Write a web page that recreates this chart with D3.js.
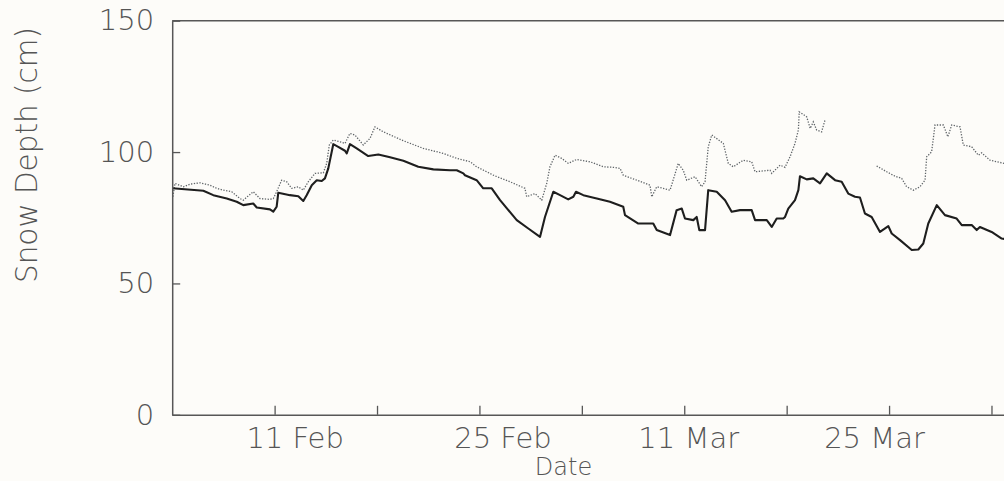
<!DOCTYPE html>
<html>
<head>
<meta charset="utf-8">
<script src="https://cdn.jsdelivr.net/npm/d3@7"></script>
<style>
  html, body { margin: 0; padding: 0; background: #fdfcf9; }
  svg { display: block; }
  text { font-family: "DejaVu Sans", sans-serif; font-weight: 200; fill: #555; }
</style>
</head>
<body>
<svg id="chart" width="1004" height="481"></svg>
<script>
// ---- data (days counted from 1 Feb = 1; year is non-leap) ----
const solidDays = [4.02, 6.13, 6.81, 7.73, 8.41, 8.86, 9.54, 9.78, 10.68, 10.91, 11.14, 11.25, 12.05, 12.62, 12.96, 13.19, 13.54, 13.88, 14.22, 14.44, 14.67, 15.01, 15.35, 15.81, 15.93, 16.15, 16.61, 17.40, 18.09, 18.89, 19.80, 20.82, 21.85, 22.99, 23.45, 23.90, 24.01, 24.81, 25.26, 25.84, 26.41, 27.55, 28.34, 29.14, 29.48, 30.05, 30.51, 31.07, 31.42, 31.60, 32.10, 33.02, 33.92, 34.83, 34.95, 35.86, 36.88, 37.12, 38.03, 38.48, 38.83, 39.05, 39.62, 39.85, 40.03, 40.42, 40.64, 41.22, 41.79, 42.24, 42.81, 43.61, 43.84, 44.64, 44.98, 45.32, 45.77, 45.89, 46.11, 46.57, 46.80, 46.91, 47.37, 47.82, 48.28, 48.74, 49.31, 49.76, 50.21, 50.67, 51.01, 51.35, 51.81, 52.38, 52.95, 53.18, 53.75, 54.55, 55.00, 55.34, 55.68, 56.26, 56.82, 57.62, 57.97, 58.65, 58.99, 59.21, 60.01, 60.70, 61.30];
const solidDepth = [86.2, 85.3, 83.6, 82.3, 81.1, 79.8, 80.4, 78.9, 78.2, 77.3, 79.2, 84.5, 83.6, 83.2, 81.4, 83.6, 87.4, 89.3, 89.0, 90.0, 93.8, 103.0, 102.0, 100.5, 99.5, 103.0, 101.4, 98.5, 99.1, 98.0, 96.7, 94.4, 93.4, 93.1, 93.1, 91.9, 91.2, 89.3, 86.2, 86.2, 81.7, 74.1, 70.9, 67.7, 75.3, 84.9, 83.6, 82.0, 83.0, 84.9, 83.6, 82.3, 81.1, 79.2, 76.0, 72.8, 72.8, 70.3, 68.4, 77.9, 78.5, 74.7, 74.1, 75.3, 70.3, 70.3, 85.5, 84.9, 81.7, 77.3, 77.9, 77.9, 74.1, 74.1, 71.5, 74.7, 74.7, 75.3, 78.5, 81.7, 85.5, 90.8, 89.6, 90.0, 88.1, 91.9, 89.3, 88.7, 84.2, 83.0, 82.7, 76.6, 75.3, 69.6, 71.8, 69.0, 66.5, 62.7, 62.9, 65.2, 72.8, 79.8, 76.0, 74.7, 72.2, 72.2, 70.3, 71.5, 69.6, 67.1, 66.5];

const dottedDays = [4.05, 4.19, 4.76, 5.22, 5.90, 6.58, 7.04, 7.49, 8.07, 8.63, 8.86, 9.54, 10.00, 10.68, 10.91, 11.14, 11.48, 11.83, 12.17, 12.62, 12.96, 13.30, 13.76, 14.33, 14.56, 14.74, 15.01, 15.47, 15.81, 16.15, 16.49, 17.06, 17.52, 17.86, 18.43, 19.80, 21.16, 22.53, 23.45, 24.37, 24.81, 25.95, 27.09, 28.11, 28.23, 28.80, 29.26, 29.60, 29.82, 30.17, 30.62, 31.07, 31.65, 32.56, 33.47, 34.15, 34.61, 34.83, 35.75, 36.66, 36.78, 37.12, 38.03, 38.59, 38.93, 39.17, 39.74, 40.19, 40.42, 40.64, 40.88, 41.67, 42.01, 42.35, 43.04, 43.61, 43.84, 44.86, 44.98, 45.55, 45.89, 46.23, 46.57, 46.80, 46.86, 47.03, 47.37, 47.61, 47.82, 48.05, 48.39, 48.62, 50.00, 52.15, 52.84, 53.41, 53.86, 54.20, 54.66, 55.11, 55.46, 55.57, 55.91, 56.14, 56.71, 57.02, 57.28, 57.85, 58.07, 58.65, 59.10, 59.33, 59.90, 60.86, 61.40];
const dottedDepth = [83.0, 88.1, 86.8, 87.8, 88.3, 87.4, 86.2, 85.5, 84.9, 82.3, 81.7, 84.9, 82.3, 82.0, 82.3, 84.9, 89.3, 88.7, 86.2, 86.8, 85.5, 88.7, 91.9, 92.1, 95.7, 102.7, 104.6, 103.9, 103.3, 107.1, 106.5, 102.7, 105.2, 109.6, 107.7, 104.3, 101.4, 99.5, 97.6, 96.3, 94.4, 91.2, 88.7, 86.2, 83.0, 84.2, 81.7, 88.1, 94.4, 98.8, 97.6, 95.7, 97.2, 96.3, 94.4, 94.2, 93.8, 91.2, 89.3, 87.4, 83.0, 86.8, 85.5, 95.7, 93.1, 89.3, 90.6, 86.8, 88.7, 102.0, 106.5, 103.3, 95.7, 94.4, 96.9, 96.3, 92.5, 93.1, 91.9, 95.0, 94.2, 98.2, 103.3, 108.4, 115.3, 114.7, 113.4, 109.0, 111.5, 108.4, 107.7, 112.2, null, 94.7, 92.5, 90.8, 90.0, 86.8, 85.5, 86.8, 89.3, 98.2, 100.1, 110.3, 110.3, 105.8, 110.3, 109.6, 102.7, 102.0, 98.8, 99.7, 96.9, 95.7, 95.0];

const tickDays = [11, 18, 25, 32, 39, 46, 53, 60];
const tickLabels = ["11 Feb", "", "25 Feb", "", "11 Mar", "", "25 Mar", ""];
const yTicks = [0, 50, 100, 150];
const domainDays = [4, 62];

// ---- styling / layout ----
const labelShift = [20, 0, 23, 0, 4, 0, -15, 0];
const plot = { left: 172.2, top: 20.7, bottom: 414.8, right: 172.2 + 58 * 14.63 };

const dateOf = d => new Date(Date.UTC(2001, 1, 1) + (d - 1) * 864e5);

const svg = d3.select("#chart");
const x = d3.scaleUtc().domain(domainDays.map(dateOf)).range([plot.left, plot.right]);
const y = d3.scaleLinear().domain([0, 150]).range([plot.bottom, plot.top]);

svg.append("defs").append("clipPath").attr("id", "clip")
  .append("rect").attr("x", plot.left).attr("y", plot.top)
  .attr("width", plot.right - plot.left).attr("height", plot.bottom - plot.top);

const solid = solidDays.map((d, i) => ({ date: dateOf(d), v: solidDepth[i] }));
const dotted = dottedDays.map((d, i) => ({ date: dateOf(d), v: dottedDepth[i] }));

const line = d3.line().defined(d => d.v != null).x(d => x(d.date)).y(d => y(d.v));

const g = svg.append("g").attr("clip-path", "url(#clip)");
g.append("path").datum(dotted).attr("d", line)
  .attr("fill", "none").attr("stroke", "#5f6468").attr("stroke-width", 1.3)
  .attr("stroke-dasharray", "1.3 1.5");
g.append("path").datum(solid).attr("d", line)
  .attr("fill", "none").attr("stroke", "#1e1e1e").attr("stroke-width", 2.1)
  .attr("stroke-linejoin", "round");

// frame
const frameColor = "#575757";
svg.append("line").attr("x1", plot.left).attr("x2", plot.right)
  .attr("y1", plot.top).attr("y2", plot.top)
  .attr("stroke", frameColor).attr("stroke-width", 1.5);
svg.append("line").attr("x1", plot.right).attr("x2", plot.right)
  .attr("y1", plot.top).attr("y2", plot.bottom)
  .attr("stroke", frameColor).attr("stroke-width", 1.5);

// x axis
const xAxis = d3.axisBottom(x)
  .tickValues(tickDays.map(dateOf))
  .tickSize(-9).tickSizeOuter(0).tickPadding(12.5)
  .tickFormat((d, i) => tickLabels[i]);
const gx = svg.append("g").attr("transform", `translate(0,${plot.bottom})`).call(xAxis);
gx.select(".domain").attr("stroke", frameColor).attr("stroke-width", 1.5);
gx.selectAll(".tick line").attr("stroke", frameColor).attr("stroke-width", 1.3);
gx.selectAll(".tick text").attr("font-size", 29).attr("font-family", null)
  .attr("dx", (d, i) => labelShift[i]).attr("fill", null);

// y axis
const yAxis = d3.axisLeft(y).tickValues(yTicks).tickSize(-8).tickSizeOuter(0).tickPadding(18);
const gy = svg.append("g").attr("transform", `translate(${plot.left},0)`).call(yAxis);
gy.select(".domain").attr("stroke", frameColor).attr("stroke-width", 1.5);
gy.selectAll(".tick line").attr("stroke", frameColor).attr("stroke-width", 1.3);
gy.selectAll(".tick text").attr("font-size", 29).attr("font-family", null).attr("fill", null);

// axis titles
svg.append("text").attr("x", 563.5).attr("y", 474.5).attr("text-anchor", "middle")
  .attr("font-size", 24).text("Date");
svg.append("text").attr("transform", "translate(37,155) rotate(-90)")
  .attr("text-anchor", "middle").attr("font-size", 29.5).text("Snow Depth (cm)");
</script>
</body>
</html>
